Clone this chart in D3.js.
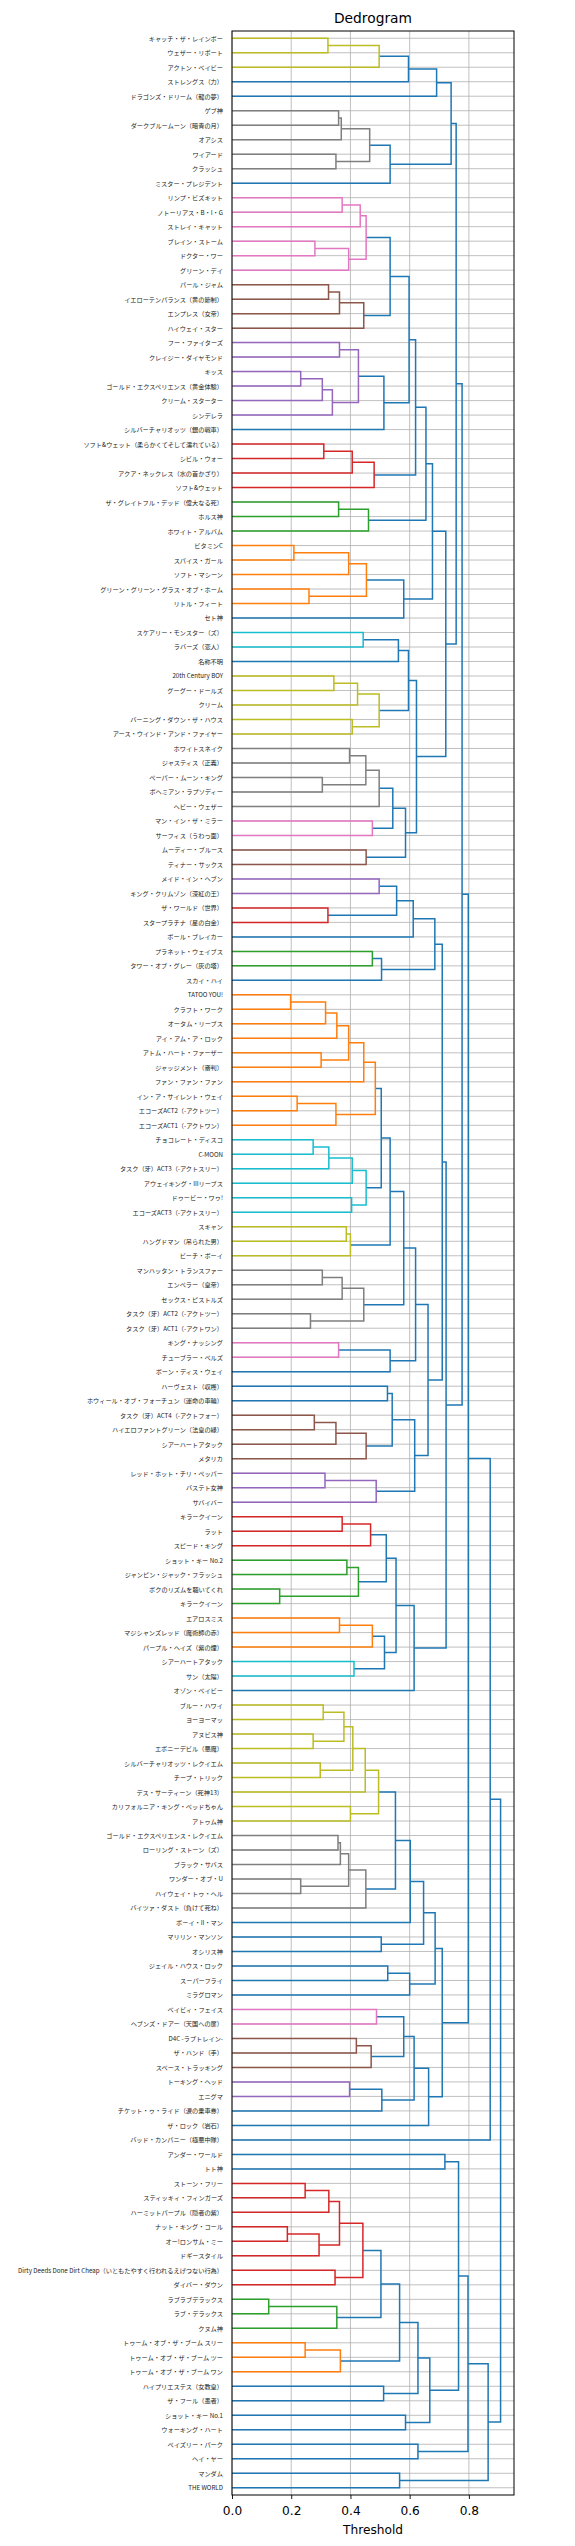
<!DOCTYPE html>
<html><head><meta charset="utf-8">
<script src="https://cdn.jsdelivr.net/npm/d3@7"></script>
<style>body{margin:0;background:#fff}</style>
</head><body><svg id="c" width="575" height="2546"></svg>
<script>
// ---- leaf labels, top to bottom ----
const labels = [
"キャッチ・ザ・レインボー","ウェザー・リポート","アクトン・ベイビー","ストレングス（力）","ドラゴンズ・ドリーム（龍の夢）",
"ゲブ神","ダークブルームーン（暗青の月）","オアシス","ワイアード","クラッシュ","ミスター・プレジデント",
"リンプ・ビズキット","ノトーリアス・B・I・G","ストレイ・キャット","ブレイン・ストーム","ドクター・ワー","グリーン・デイ",
"パール・ジャム","イエローテンパランス（黄の節制）","エンプレス（女帝）","ハイウェイ・スター",
"フー・ファイターズ","クレイジー・ダイヤモンド","キッス","ゴールド・エクスペリエンス（黄金体験）","クリーム・スターター","シンデレラ",
"シルバーチャリオッツ（銀の戦車）","ソフト&ウェット（柔らかくてそして濡れている）","シビル・ウォー","アクア・ネックレス（水の首かざり）","ソフト&ウェット",
"ザ・グレイトフル・デッド（偉大なる死）","ホルス神","ホワイト・アルバム",
"ビタミンC","スパイス・ガール","ソフト・マシーン","グリーン・グリーン・グラス・オブ・ホーム","リトル・フィート","セト神",
"スケアリー・モンスター（ズ）","ラバーズ（恋人）","名称不明",
"20th Century BOY","グーグー・ドールズ","クリーム","バーニング・ダウン・ザ・ハウス","アース・ウインド・アンド・ファイヤー",
"ホワイトスネイク","ジャスティス（正義）","ペーパー・ムーン・キング","ボヘミアン・ラプソディー","ヘビー・ウェザー",
"マン・イン・ザ・ミラー","サーフィス（うわっ面）","ムーディー・ブルース","ティナー・サックス",
"メイド・イン・ヘブン","キング・クリムゾン（深紅の王）","ザ・ワールド（世界）","スタープラチナ（星の白金）","ボール・ブレイカー",
"プラネット・ウェイブス","タワー・オブ・グレー（灰の塔）","スカイ・ハイ",
"TATOO YOU!","クラフト・ワーク","オータム・リーブス","アイ・アム・ア・ロック","アトム・ハート・ファーザー","ジャッジメント（審判）",
"ファン・ファン・ファン","イン・ア・サイレント・ウェイ","エコーズACT2（-アクトツー）","エコーズACT1（-アクトワン）",
"チョコレート・ディスコ","C-MOON","タスク（牙）ACT3（-アクトスリー）","アウェイキング・IIIリーブス","ドゥービー・ワゥ!","エコーズACT3（-アクトスリー）",
"スキャン","ハングドマン（吊られた男）","ビーチ・ボーイ",
"マンハッタン・トランスファー","エンペラー（皇帝）","セックス・ピストルズ","タスク（牙）ACT2（-アクトツー）","タスク（牙）ACT1（-アクトワン）",
"キング・ナッシング","チューブラー・ベルズ","ボーン・ディス・ウェイ",
"ハーヴェスト（収穫）","ホウィール・オブ・フォーチュン（運命の車輪）","タスク（牙）ACT4（-アクトフォー）","ハイエロファントグリーン（法皇の緑）","シアーハートアタック","メタリカ",
"レッド・ホット・チリ・ペッパー","バステト女神","サバイバー",
"キラークイーン","ラット","スピード・キング","ショット・キー No.2","ジャンピン・ジャック・フラッシュ","ボクのリズムを聴いてくれ","キラークイーン",
"エアロスミス","マジシャンズレッド（魔術師の赤）","パープル・ヘイズ（紫の煙）","シアーハートアタック","サン（太陽）","オゾン・ベイビー",
"ブルー・ハワイ","ヨーヨーマッ","アヌビス神","エボニーデビル（悪魔）","シルバーチャリオッツ・レクイエム","チープ・トリック",
"デス・サーティーン（死神13）","カリフォルニア・キング・ベッドちゃん","アトゥム神",
"ゴールド・エクスペリエンス・レクイエム","ローリング・ストーン（ズ）","ブラック・サバス","ワンダー・オブ・U","ハイウェイ・トゥ・ヘル","バイツァ・ダスト（負けて死ね）",
"ボーイ・II・マン","マリリン・マンソン","オシリス神","ジェイル・ハウス・ロック","スーパーフライ","ミラグロマン",
"ベイビィ・フェイス","ヘブンズ・ドアー（天国への扉）","D4C -ラブトレイン-","ザ・ハンド（手）","スペース・トラッキング",
"トーキング・ヘッド","エニグマ","チケット・ゥ・ライド（涙の乗車券）","ザ・ロック（岩石）","バッド・カンパニー（極悪中隊）",
"アンダー・ワールド","トト神","ストーン・フリー","スティッキィ・フィンガーズ","ハーミットパープル（隠者の紫）",
"ナット・キング・コール","オー!ロンサム・ミー","ドギースタイル","Dirty Deeds Done Dirt Cheap（いともたやすく行われるえげつない行為）","ダイバー・ダウン",
"ラブラブデラックス","ラブ・デラックス","クヌム神","トゥーム・オブ・ザ・ブーム スリー","トゥーム・オブ・ザ・ブーム ツー","トゥーム・オブ・ザ・ブーム ワン",
"ハイプリエステス（女教皇）","ザ・フール（愚者）","ショット・キー No.1","ウォーキング・ハート","ペイズリー・パーク","ヘイ・ヤー","マンダム","THE WORLD"
];

// ---- merges: [upper, lower, distance]; numbers are leaf numbers (1-based) ----
const groupE = [[[[[1,2,0.324],3,0.497],4,0.596],5,0.691],
                [[[[6,7,0.36],8,0.369],[9,10,0.351],0.465],11,0.534],0.74];
const groupN = [[[[[12,13,0.372],14,0.433],[[15,16,0.28],17,0.394],0.453],
                 [[[18,19,0.326],20,0.363],21,0.445],0.534],
                [[[22,23,0.363],[[[24,25,0.232],26,0.305],27,0.339],0.427],28,0.513],0.598];
const groupI = [[[groupN,[[[29,30,0.31],31,0.406],32,0.48],0.62],[[33,34,0.36],35,0.461],0.655],
                [[[[36,37,0.209],38,0.394],[39,40,0.26],0.454],41,0.58],0.677];
const groupJ = [[[[42,43,0.443],44,0.562],[[[45,46,0.344],47,0.424],[48,49,0.406],0.497],0.596],
                [[[[[50,51,0.397],[52,53,0.305],0.452],54,0.497],[55,56,0.474],0.543],[57,58,0.453],0.586],0.623];
const groupX = [[[[59,60,0.497],[61,62,0.324],0.556],63,0.612],[[64,65,0.474],66,0.505],0.685];
const groupZ = [[[[[[[[[[67,68,0.198],69,0.316],70,0.354],[71,72,0.301],0.394],73,0.445],[[74,75,0.22],76,0.351],0.484],
                  [[[[77,78,0.274],79,0.327],80,0.406],[81,82,0.404],0.453],0.504],
                 [[83,84,0.386],85,0.4],0.534],
                [[[86,87,0.305],88,0.372],[89,90,0.265],0.445],0.58],
               [[91,92,0.36],93,0.534],0.62];
const groupAA = [[[94,95,0.525],[[[96,97,0.278],98,0.351],99,0.453],0.541],[[100,101,0.314],102,0.487],0.617];
const groupW = [[[[[103,104,0.372],105,0.468],[[106,107,0.388],[108,109,0.161],0.427],0.521],
                 [[[110,111,0.363],112,0.474],[113,114,0.412],0.515],0.554],115,0.615];
const groupCC = [[[[[[[[[116,117,0.308],[118,119,0.274],0.378],[120,121,0.298],0.408],122,0.45],[123,124,0.4],0.495],
                    [[[[125,126,0.358],127,0.366],[128,129,0.232],0.394],130,0.452],0.552],131,0.602],
                  [132,133,0.504],0.647],
                 [[134,135,0.526],136,0.6],0.686];
const groupDD = [[[[137,138,0.488],[[139,140,0.42],141,0.47],0.58],[[142,143,0.397],144,0.506],0.615],145,0.664];
const groupEE = [[[[147,148,0.719],
                   [[[[[[[[149,150,0.247],151,0.327],[[152,153,0.187],154,0.294],0.363],[155,156,0.348],0.442],
                        [[157,158,0.124],159,0.354],0.503],
                       [[160,161,0.247],162,0.366],0.566],
                      [163,164,0.512],0.628],
                     [165,166,0.586],0.668],0.765],
                  [167,168,0.628],0.797],
                 [169,170,0.566],0.865];
const tree = [[[[[groupE,[groupI,groupJ,0.722],0.757],
                 [[groupX,[groupZ,groupAA,0.662],0.71],groupW,0.723],0.777],
                [groupCC,groupDD,0.71],0.798],146,0.872],
              groupEE,0.907];

const colorThreshold = 0.5;
const xTicks = [0, 0.2, 0.4, 0.6, 0.8];
const titleText = "Dedrogram";
const xLabelText = "Threshold";

// ---- styles ----
const palette = ["#ff7f0e","#2ca02c","#d62728","#9467bd","#8c564b","#e377c2","#7f7f7f","#bcbd22","#17becf"];
const aboveColor = "#1f77b4";
const box = {left: 232, right: 514, top: 31, bottom: 2495};

const svg = d3.select("#c");
svg.append("rect").attr("width",575).attr("height",2546).attr("fill","#fff");

const root = d3.hierarchy(tree, d => Array.isArray(d) ? [d[0], d[1]] : null);
root.each(n => { n.dist = Array.isArray(n.data) ? n.data[2] : 0; });
const leaves = root.leaves();
const N = leaves.length;

const x = d3.scaleLinear().domain([0, root.dist * 1.05]).range([box.left, box.right]);
const y = d3.scaleLinear().domain([0, N * 10]).range([box.bottom, box.top]);
leaves.forEach((l, i) => { l.pos = 5 + 10 * (N - 1 - i); l.yv = y(l.pos); });
root.eachAfter(n => { if (n.children) n.yv = (n.children[0].yv + n.children[1].yv) / 2; });

// colour clusters (scipy-like): maximal subtrees below threshold, numbered from the bottom
const clusterRoots = [];
root.each(n => {
  if (n.children && n.dist < colorThreshold && (!n.parent || n.parent.dist >= colorThreshold)) clusterRoots.push(n);
});
clusterRoots.sort((a, b) => b.yv - a.yv);
clusterRoots.forEach((c, i) => c.each(d => { d.col = palette[i % palette.length]; }));

// grid
const grid = svg.append("g").attr("stroke", "#b0b0b0").attr("stroke-width", 0.8);
grid.selectAll("line.h").data(leaves).join("line")
  .attr("x1", box.left).attr("x2", box.right).attr("y1", d => d.yv).attr("y2", d => d.yv);
grid.selectAll("line.v").data(xTicks).join("line")
  .attr("x1", d => x(d)).attr("x2", d => x(d)).attr("y1", box.top).attr("y2", box.bottom);

// links
const internal = root.descendants().filter(n => n.children);
svg.append("g").attr("fill", "none").attr("stroke-width", 1.5)
  .selectAll("path").data(internal).join("path")
  .attr("stroke", d => d.col || aboveColor)
  .attr("d", d => {
    const [a, b] = d.children;
    return `M${x(a.dist)},${a.yv}H${x(d.dist)}V${b.yv}H${x(b.dist)}`;
  });

// frame
svg.append("rect").attr("x", box.left).attr("y", box.top)
  .attr("width", box.right - box.left).attr("height", box.bottom - box.top)
  .attr("fill", "none").attr("stroke", "#000").attr("stroke-width", 1);

// x axis
const xAxis = svg.append("g").attr("transform", `translate(0,${box.bottom})`)
  .call(d3.axisBottom(x).tickValues(xTicks).tickFormat(d3.format(".1f")).tickSize(4).tickPadding(7));
xAxis.select(".domain").remove();
xAxis.selectAll("text").attr("font-family", "DejaVu Sans").attr("font-size", 12.2).attr("fill", "#000");
xAxis.selectAll("line").attr("stroke", "#000").attr("stroke-width", 0.9);

// y axis (leaf labels)
const labelOf = new Map(leaves.map(l => [l.pos, labels[l.data - 1]]));
const yAxis = svg.append("g").attr("transform", `translate(${box.left},0)`)
  .call(d3.axisLeft(y).tickValues(leaves.map(l => l.pos)).tickFormat(v => labelOf.get(v)).tickSize(0).tickPadding(9));
yAxis.select(".domain").remove();
yAxis.selectAll("text").attr("font-family", "'Noto Sans CJK JP', 'DejaVu Sans', sans-serif")
  .attr("font-size", 6.2).attr("fill", "#222");

// titles
svg.append("text").attr("x", (box.left + box.right) / 2).attr("y", 23).attr("text-anchor", "middle")
  .attr("font-family", "DejaVu Sans").attr("font-size", 13.8).attr("fill", "#000").text(titleText);
svg.append("text").attr("x", (box.left + box.right) / 2).attr("y", 2534).attr("text-anchor", "middle")
  .attr("font-family", "DejaVu Sans").attr("font-size", 12.2).attr("fill", "#000").text(xLabelText);
</script>
</body></html>
